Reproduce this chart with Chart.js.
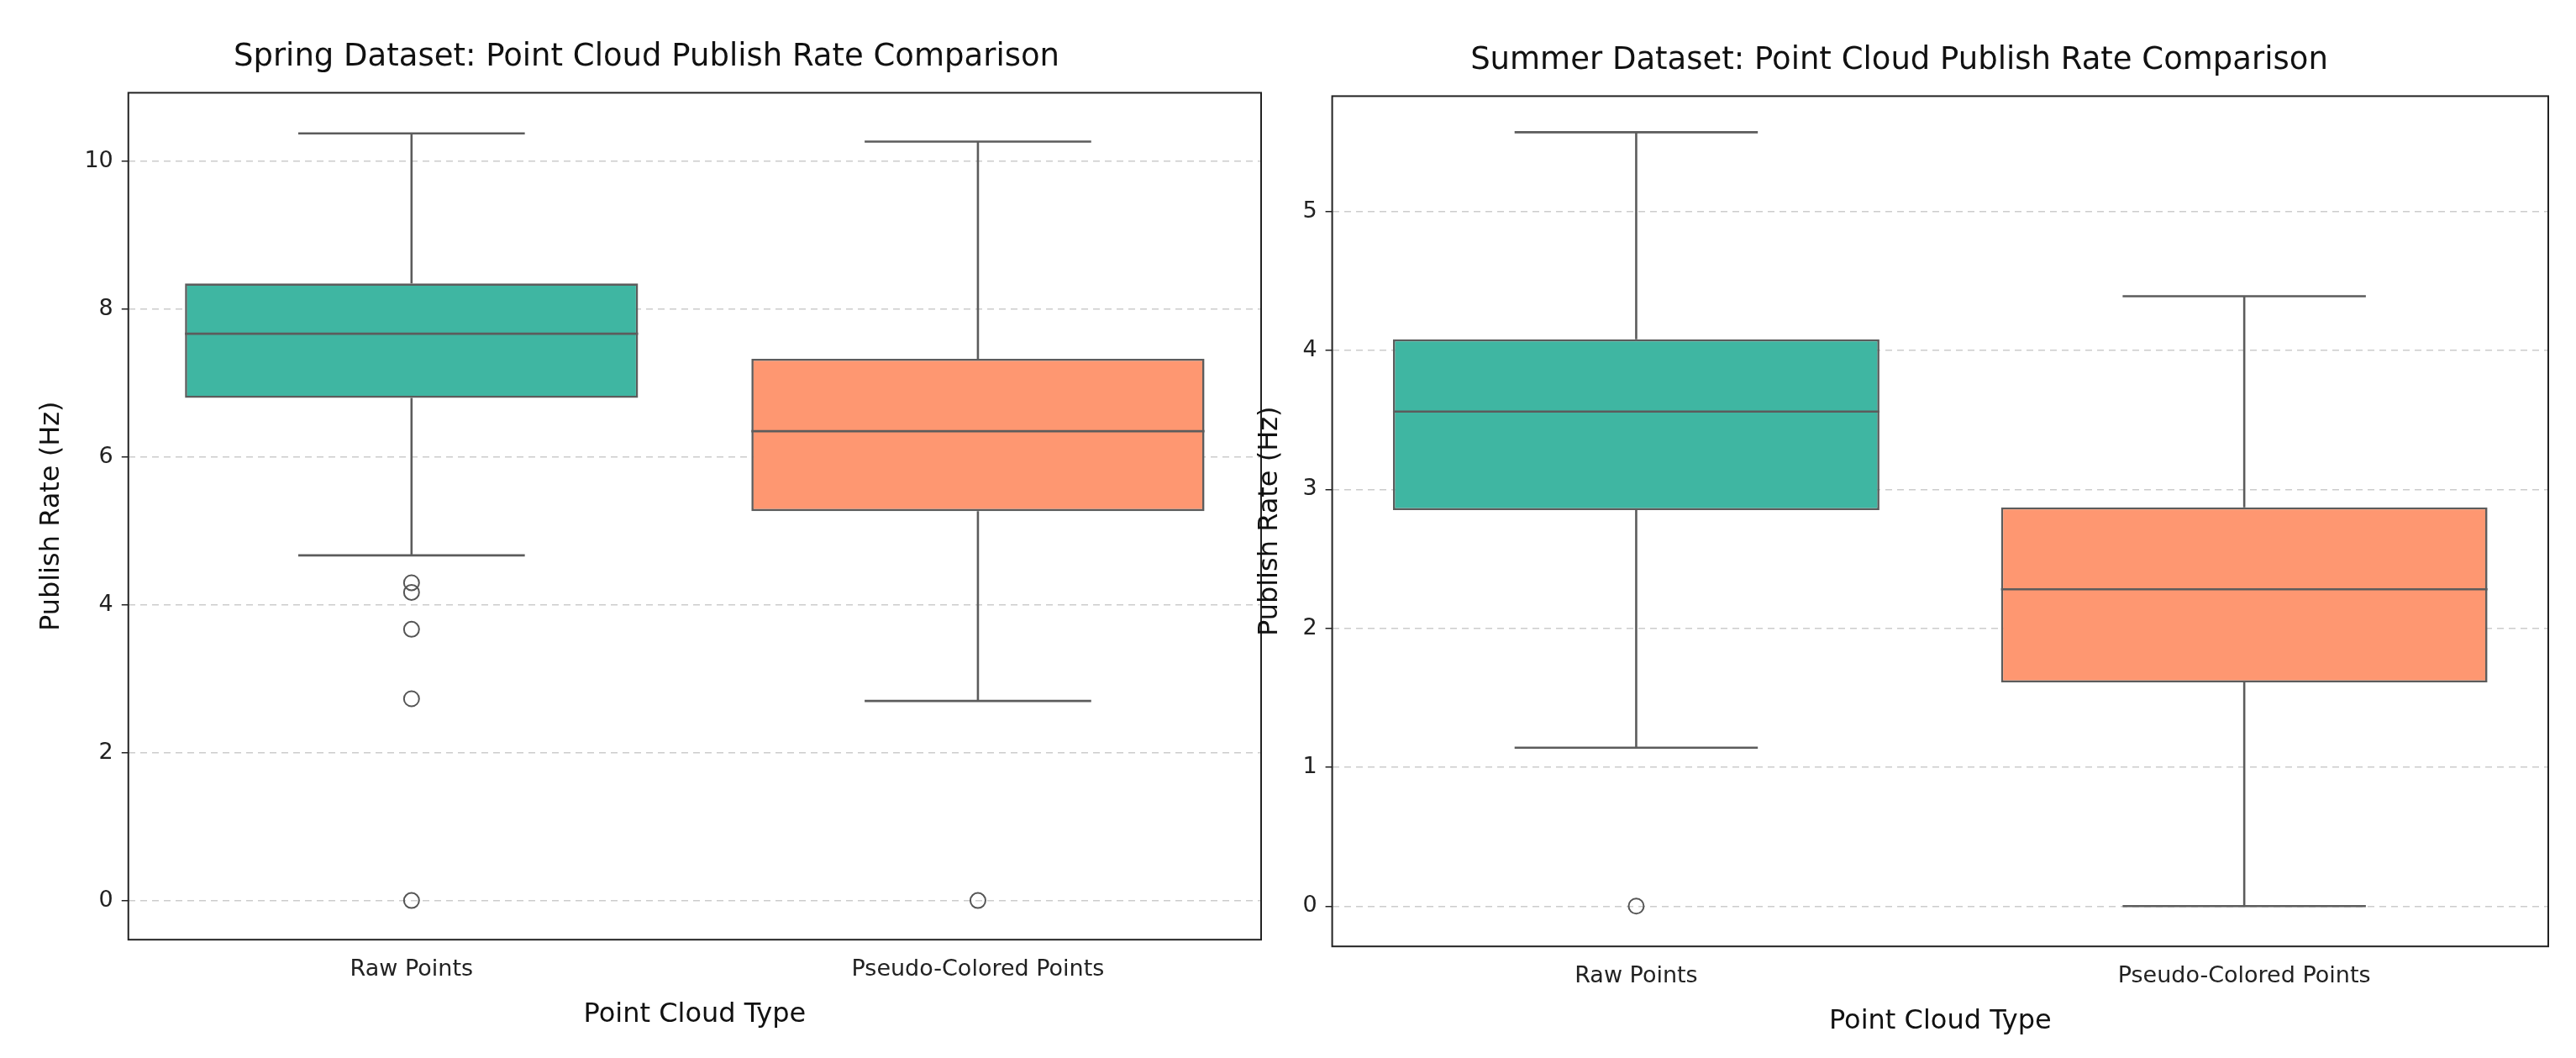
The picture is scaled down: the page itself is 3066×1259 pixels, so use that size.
<!DOCTYPE html>
<html><head><meta charset="utf-8">
<script src="https://cdn.jsdelivr.net/npm/chart.js@4"></script>
<style>
body{margin:0;background:#fff;width:3066px;height:1259px;overflow:hidden;font-family:"DejaVu Sans"}
.c{position:absolute;top:0;height:1259px}
</style></head><body>
<div class="c" style="left:0;width:1530px"><canvas id="a"></canvas></div>
<div class="c" style="left:1450px;width:1616px"><canvas id="b"></canvas></div>
<script>
const categories = ["Raw Points", "Pseudo-Colored Points"];
const springMin = [4.67, 2.70];
const springQ1 = [6.80, 5.27];
const springMedian = [7.67, 6.35];
const springQ3 = [8.35, 7.33];
const springMax = [10.38, 10.27];
const springOutliers = [[4.30, 4.17, 3.67, 2.73, 0], [0]];
const springTicks = [0, 2, 4, 6, 8, 10];
const summerMin = [1.14, 0];
const summerQ1 = [2.85, 1.61];
const summerMedian = [3.56, 2.28];
const summerQ3 = [4.08, 2.87];
const summerMax = [5.57, 4.39];
const summerOutliers = [[0], []];
const summerTicks = [0, 1, 2, 3, 4, 5];
const fills = ["#3fb6a2", "#fe9771"];
const edge = "#5c5c5c";

const boxPlugin = {
  id: "box",
  afterDatasetsDraw(chart) {
    const s = chart.options.plugins.box;
    const ctx = chart.ctx, y = chart.scales.y;
    const meta = chart.getDatasetMeta(0);
    ctx.save();
    ctx.strokeStyle = edge; ctx.lineWidth = 2.6;
    meta.data.forEach((el, i) => {
      const x = el.x, hw = el.width / 2, cw = hw / 2;
      const p = v => y.getPixelForValue(v);
      ctx.beginPath();
      ctx.moveTo(x, p(s.q3[i])); ctx.lineTo(x, p(s.max[i]));
      ctx.moveTo(x, p(s.q1[i])); ctx.lineTo(x, p(s.min[i]));
      ctx.moveTo(x - cw, p(s.max[i])); ctx.lineTo(x + cw, p(s.max[i]));
      ctx.moveTo(x - cw, p(s.min[i])); ctx.lineTo(x + cw, p(s.min[i]));
      ctx.moveTo(x - hw, p(s.med[i])); ctx.lineTo(x + hw, p(s.med[i]));
      ctx.stroke();
    });
    const a = chart.chartArea;
    ctx.strokeStyle = "#222"; ctx.lineWidth = 2;
    ctx.strokeRect(a.left, a.top, a.right - a.left, a.bottom - a.top);
    ctx.restore();
  }
};

function make(id, title, mn, q1, med, q3, mx, outl, ticks, ymin, ymax, pad) {
  const pts = [];
  outl.forEach((arr, i) => arr.forEach(v => pts.push({x: categories[i], y: v})));
  new Chart(document.getElementById(id), {
    type: "bar",
    data: {
      labels: categories,
      datasets: [
        {data: q1.map((v, i) => [v, q3[i]]), backgroundColor: fills, borderColor: edge,
         borderWidth: 2.6, borderSkipped: false, categoryPercentage: 1, barPercentage: 0.8},
        {type: "line", data: pts, showLine: false, pointRadius: 9, pointBorderWidth: 2,
         pointBackgroundColor: "rgba(0,0,0,0)", pointBorderColor: "#555"}
      ]
    },
    options: {
      responsive: true, maintainAspectRatio: false, animation: false,
      layout: {padding: pad},
      plugins: {
        legend: {display: false}, tooltip: {enabled: false},
        title: {display: true, text: title, color: "#111", font: {size: 37, family: "DejaVu Sans", weight: "normal"}, padding: {top: 0, bottom: 20}},
        box: {min: mn, q1: q1, med: med, q3: q3, max: mx}
      },
      scales: {
        x: {grid: {display: false}, border: {display: false},
            ticks: {color: "#222", font: {size: 27, family: "DejaVu Sans"}, padding: 12},
            title: {display: true, text: "Point Cloud Type", color: "#111", font: {size: 32, family: "DejaVu Sans"}, padding: {top: 6}}},
        y: {min: ymin, max: ymax,
            afterBuildTicks: ax => { ax.ticks = ticks.map(v => ({value: v})); },
            grid: {color: "#cccccc", lineWidth: 1.5, drawTicks: true, tickColor: "#222", tickLength: 8, tickBorderDash: [0, 0]},
            border: {display: false, dash: [8, 6]},
            ticks: {color: "#222", font: {size: 27, family: "DejaVu Sans"}, padding: 10},
            title: {display: true, text: "Publish Rate (Hz)", color: "#111", font: {size: 32, family: "DejaVu Sans"}, padding: {bottom: 10}}}
      }
    },
    plugins: [boxPlugin]
  });
}
make("a", "Spring Dataset: Point Cloud Publish Rate Comparison", springMin, springQ1, springMedian, springQ3, springMax, springOutliers, springTicks, -0.53, 10.93, {top: 46, left: 38, right: 29, bottom: 28});
make("b", "Summer Dataset: Point Cloud Publish Rate Comparison", summerMin, summerQ1, summerMedian, summerQ3, summerMax, summerOutliers, summerTicks, -0.29, 5.83, {top: 50, left: 38, right: 33, bottom: 20});
</script></body></html>
